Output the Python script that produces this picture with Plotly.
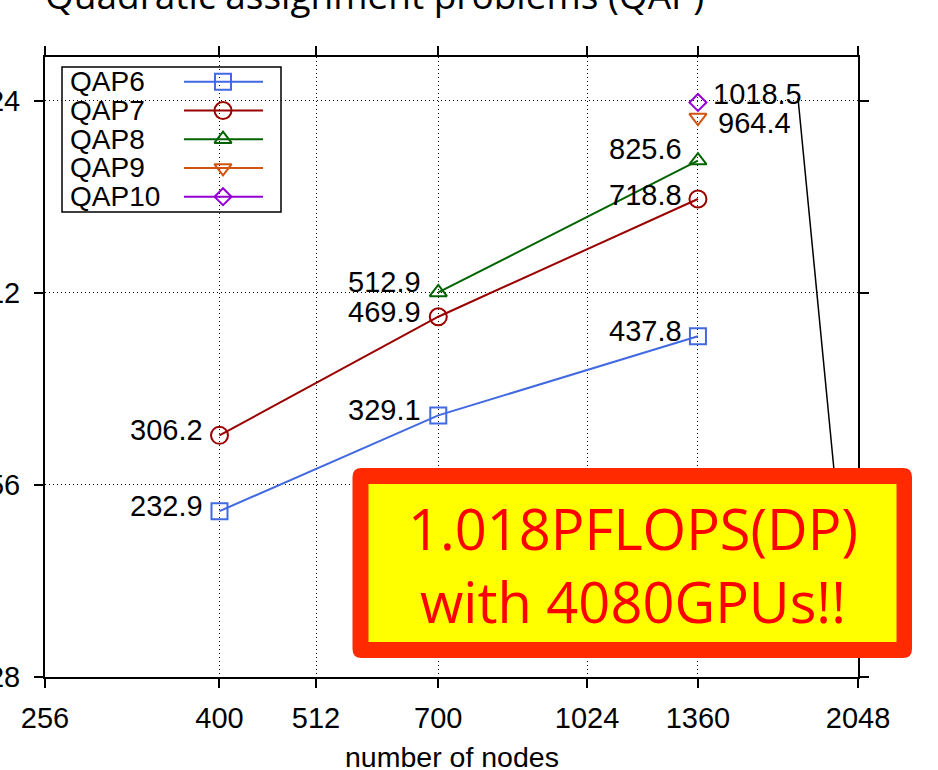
import numpy as np
import plotly.graph_objects as go

# ---------------- data ----------------
x_tick_vals = [256, 400, 512, 700, 1024, 1360, 2048]
y_tick_vals = [128, 256, 512, 1024]

series_names = ["QAP6", "QAP7", "QAP8", "QAP9", "QAP10"]
qap6_nodes = [400, 700, 1360]
qap6_tflops = [232.9, 329.1, 437.8]
qap7_nodes = [400, 700, 1360]
qap7_tflops = [306.2, 469.9, 718.8]
qap8_nodes = [700, 1360]
qap8_tflops = [512.9, 825.6]
qap9_nodes = [1360]
qap9_tflops = [964.4]
qap10_nodes = [1360]
qap10_tflops = [1018.5]

title_text = "Quadratic assignment problems (QAP)"
x_title_text = "number of nodes"
callout_text = "1.018PFLOPS(DP)<br>with 4080GPUs!!"

# ---------------- styles ----------------
W, H = 938, 770
PL, PR, PT, PB = 45, 858, 57, 677  # plot area in pixels
LABEL_FONT = "Liberation Sans, Arial, Helvetica, sans-serif"
FS = 29

colors = ["#4169E1", "#9B0000", "#006400", "#D2540F", "#9400D3"]
symbols = ["square-open", "circle-open", "triangle-up-open", "triangle-down-open", "diamond-open"]
msizes = [16, 17, 15, 15, 13]
label_offsets = [
    [("right", -14, 5), ("right", -15, 5), ("right", -14, 5)],
    [("right", -14, 5), ("right", -15, 5), ("right", -14, 4)],
    [("right", -15, 10), ("right", -14, 12)],
    [("left", 18, -5)],
    [("left", 13, 8)],
]


def px2x(px):
    return (px - PL) / (PR - PL)


def py2y(py):
    return (PB - py) / (PB - PT)


series_x = [qap6_nodes, qap7_nodes, qap8_nodes, qap9_nodes, qap10_nodes]
series_y = [qap6_tflops, qap7_tflops, qap8_tflops, qap9_tflops, qap10_tflops]

fig = go.Figure()
annotations = []
shapes = []

for i, name in enumerate(series_names):
    fig.add_trace(go.Scatter(
        x=series_x[i], y=series_y[i], name=name, mode="lines+markers",
        line=dict(color=colors[i], width=2),
        marker=dict(symbol=symbols[i], size=msizes[i], color=colors[i],
                    line=dict(color=colors[i], width=2)),
        showlegend=False, cliponaxis=False,
    ))
    for j, (xv, yv) in enumerate(zip(series_x[i], series_y[i])):
        anc, dx, dy = label_offsets[i][j]
        annotations.append(dict(
            x=np.log10(xv), y=np.log10(yv), xref="x", yref="y",
            text=f"{yv}", showarrow=False, xanchor=anc, yanchor="middle",
            xshift=dx, yshift=dy,
            font=dict(family=LABEL_FONT, size=FS, color="black"),
        ))

# ---- manual legend (text left, sample right) on overlay axes x2/y2 ----
leg_x0, leg_x1, leg_y0, leg_y1 = 62, 281, 67, 212
row0, row_step = 81.7, 28.75
shapes.append(dict(type="rect", xref="x2", yref="y2",
                   x0=px2x(leg_x0), x1=px2x(leg_x1), y0=py2y(leg_y0), y1=py2y(leg_y1),
                   line=dict(color="black", width=1.5), fillcolor="white", layer="below"))
for i, name in enumerate(series_names):
    ry = py2y(row0 + i * row_step)
    fig.add_trace(go.Scatter(
        x=[px2x(184), px2x(263)], y=[ry, ry], mode="lines", xaxis="x2", yaxis="y2",
        line=dict(color=colors[i], width=2), showlegend=False, hoverinfo="skip"))
    fig.add_trace(go.Scatter(
        x=[px2x(223)], y=[ry], mode="markers", xaxis="x2", yaxis="y2",
        marker=dict(symbol=symbols[i], size=msizes[i], color=colors[i],
                    line=dict(color=colors[i], width=2)),
        showlegend=False, hoverinfo="skip"))
    annotations.append(dict(
        x=px2x(69), y=ry, xref="paper", yref="paper", text=name, showarrow=False,
        xanchor="left", yanchor="middle", borderpad=0,
        font=dict(family=LABEL_FONT, size=28, color="black")))

# ---- callout box ----
bx0, by0, bx1, by1, r = 352.5, 468, 912, 658, 9


def rounded_path(x0, y0, x1, y1, rad):
    pts = [
        ("M", [(x0 + rad, y0)]), ("L", [(x1 - rad, y0)]), ("Q", [(x1, y0), (x1, y0 + rad)]),
        ("L", [(x1, y1 - rad)]), ("Q", [(x1, y1), (x1 - rad, y1)]),
        ("L", [(x0 + rad, y1)]), ("Q", [(x0, y1), (x0, y1 - rad)]),
        ("L", [(x0, y0 + rad)]), ("Q", [(x0, y0), (x0 + rad, y0)]),
    ]
    s = ""
    for cmd, ps in pts:
        s += cmd + " " + " ".join(f"{px2x(a):.5f},{py2y(b):.5f}" for a, b in ps) + " "
    return s + "Z"


# connector from the 1018.5 label to the callout
shapes.append(dict(type="line", xref="paper", yref="paper",
                   x0=px2x(798), y0=py2y(98), x1=px2x(834), y1=py2y(470),
                   line=dict(color="black", width=1.5), layer="above"))
shapes.append(dict(type="path", xref="paper", yref="paper", path=rounded_path(bx0, by0, bx1, by1, r),
                   fillcolor="#FF2A00", line=dict(width=0), layer="above"))
shapes.append(dict(type="rect", xref="paper", yref="paper",
                   x0=px2x(368.5), x1=px2x(896.5), y0=py2y(484), y1=py2y(642),
                   fillcolor="#FFFF00", line=dict(width=0), layer="above"))
annotations.append(dict(
    x=px2x(633), y=py2y(564), xref="paper", yref="paper", text=callout_text, showarrow=False,
    xanchor="center", yanchor="middle", align="center",
    font=dict(family="Open Sans, sans-serif", size=56, color="#FF0000")))

# ---- title (cut at the top edge as in the reference) and axis title ----
annotations.append(dict(
    x=px2x(43), y=py2y(22), xref="paper", yref="paper", text=title_text, showarrow=False,
    xanchor="left", yanchor="bottom",
    font=dict(family="Open Sans, sans-serif", size=37, color="black")))
annotations.append(dict(
    x=0.5, y=py2y(757), xref="paper", yref="paper", text=x_title_text, showarrow=False,
    xanchor="center", yanchor="middle",
    font=dict(family=LABEL_FONT, size=28.5, color="black")))

axis_common = dict(
    showline=True, linecolor="black", linewidth=2, mirror="ticks",
    ticks="outside", ticklen=9, tickwidth=1.5, tickcolor="black",
    showgrid=True, gridcolor="black", gridwidth=1, griddash="1px,3px",
    zeroline=False, automargin=False,
    tickfont=dict(family=LABEL_FONT, size=FS, color="black"),
)

fig.update_layout(
    template="none",
    width=W, height=H,
    margin=dict(l=PL, r=W - PR, t=PT, b=H - PB, pad=0),
    paper_bgcolor="white", plot_bgcolor="white",
    showlegend=False,
    xaxis=dict(type="log", range=[np.log10(256), np.log10(2048)],
               tickmode="array", tickvals=x_tick_vals, ticktext=[str(v) for v in x_tick_vals],
               ticklabelstandoff=5, **axis_common),
    yaxis=dict(type="log", range=[np.log10(128), np.log10(1200)],
               tickmode="array", tickvals=y_tick_vals, ticktext=[str(v) for v in y_tick_vals],
               ticklabelstandoff=8, **axis_common),
    xaxis2=dict(overlaying="x", range=[0, 1], visible=False, fixedrange=True),
    yaxis2=dict(overlaying="y", range=[0, 1], visible=False, fixedrange=True),
    annotations=annotations,
    shapes=shapes,
)

fig.write_html("out.html")
